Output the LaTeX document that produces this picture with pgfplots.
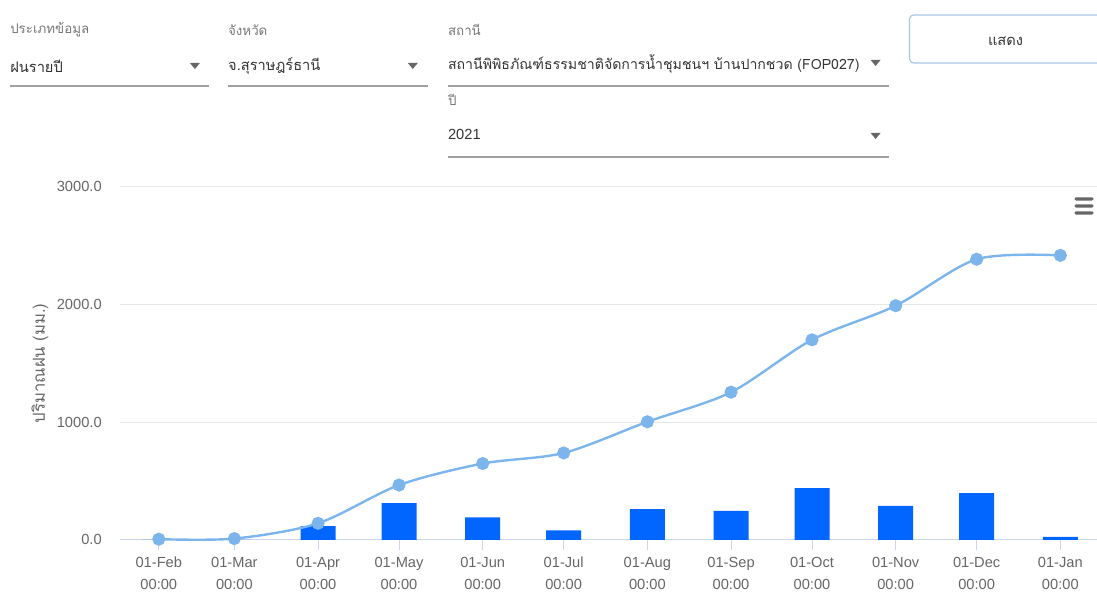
\documentclass[border=0pt]{standalone}
\usepackage{pgfplots}
\pgfplotsset{compat=1.18}
\usepackage{fontspec}
\setmainfont{Liberation Sans}
\newfontfamily\thaifont[Script=Thai]{Loma}
\definecolor{linecol}{HTML}{7CB5EC}
\definecolor{barcol}{HTML}{0066FF}
\definecolor{axcol}{HTML}{CCD6EB}
\definecolor{gridcol}{HTML}{E6E6E6}
\definecolor{labcol}{HTML}{666666}
\definecolor{formlab}{HTML}{777777}
\definecolor{formval}{HTML}{333333}
\definecolor{uline}{HTML}{A0A0A0}
\definecolor{btnborder}{HTML}{A9C6E4}
\begin{document}
\begin{tikzpicture}
\begin{scope}[x=0.75pt,y=-0.75pt]
\path[use as bounding box] (0,0) rectangle (1097,592);
% form labels
\node[anchor=west,inner sep=0pt,text=formlab,font=\thaifont\fontsize{10}{12}\selectfont] at (10,30) {ประเภทข้อมูล};
\node[anchor=west,inner sep=0pt,text=formlab,font=\thaifont\fontsize{10}{12}\selectfont] at (228,30) {จังหวัด};
\node[anchor=west,inner sep=0pt,text=formlab,font=\thaifont\fontsize{10}{12}\selectfont] at (448,30) {สถานี};
\node[anchor=west,inner sep=0pt,text=formlab,font=\thaifont\fontsize{10}{12}\selectfont] at (448,100) {ปี};
% form values
\node[anchor=west,inner sep=0pt,text=formval,font=\thaifont\fontsize{11}{13}\selectfont] at (10,66) {ฝนรายปี};
\node[anchor=west,inner sep=0pt,text=formval,font=\thaifont\fontsize{11}{13}\selectfont] at (228,66) {จ.สุราษฎร์ธานี};
\node[anchor=west,inner sep=0pt,text=formval,font=\thaifont\fontsize{10.6}{13}\selectfont] at (448,64) {สถานีพิพิธภัณฑ์ธรรมชาติจัดการน้ำชุมชนฯ บ้านปากชวด (FOP027)};
\node[anchor=west,inner sep=0pt,text=formval,font=\fontsize{11}{13}\selectfont] at (448,135) {2021};
% underlines
\draw[uline,line width=1pt] (10,86) -- (209,86);
\draw[uline,line width=1pt] (228,86) -- (428,86);
\draw[uline,line width=1pt] (448,86) -- (889,86);
\draw[uline,line width=1pt] (448,157) -- (889,157);
% dropdown triangles
\foreach \tx/\ty in {195/66, 413/66, 876/63, 876/136}{
  \fill[labcol] (\tx-5,\ty-3) -- (\tx+5,\ty-3) -- (\tx,\ty+3) -- cycle;
}
% button
\draw[btnborder,line width=0.9pt,rounded corners=3pt] (910,15) rectangle (1104,63);
\node[text=formval,font=\thaifont\fontsize{11}{13}\selectfont] at (1006,41) {แสดง};
% menu icon
\foreach \my in {199,206,213}{
  \fill[labcol,rounded corners=1pt] (1075,\my-1.6) rectangle (1094,\my+1.6);
}
\end{scope}
\begin{axis}[
  at={(90pt,-405pt)}, anchor=south west,
  scale only axis, width=732.75pt, height=264.75pt,
  xmin=-14.4, xmax=347.4, ymin=0, ymax=3000,
  axis x line=bottom, axis y line=left,
  x axis line style={draw=axcol,line width=0.75pt,-},
  y axis line style={draw=none},
  xtick={0,28,59,89,120,150,181,212,242,273,303,334},
  xticklabels={01-Feb\\00:00,01-Mar\\00:00,01-Apr\\00:00,01-May\\00:00,01-Jun\\00:00,01-Jul\\00:00,01-Aug\\00:00,01-Sep\\00:00,01-Oct\\00:00,01-Nov\\00:00,01-Dec\\00:00,01-Jan\\00:00},
  xticklabel style={align=center,font=\fontsize{11}{16.5}\selectfont,text=labcol,inner sep=0pt,yshift=-5.5pt},
  tick align=outside,
  major tick length=7.5pt,
  xtick style={draw=axcol,line width=0.75pt},
  ytick={0,1000,2000,3000},
  ytick style={draw=none},
  yticklabel style={font=\fontsize{11}{13}\selectfont,text=labcol,inner sep=0pt,xshift=-6pt},
  /pgf/number format/.cd, fixed, fixed zerofill, precision=1, 1000 sep={}, assume math mode=true,
  /pgfplots/.cd,
  ymajorgrids,
  grid style={draw=gridcol,line width=0.75pt},
  ylabel={ปริมาณฝน (มม.)},
  every axis y label/.style={at={(axis description cs:-0.082,0.5)},rotate=90,anchor=center,font=\thaifont\fontsize{12.5}{14}\selectfont,text=labcol},
  clip=false,
]
\addplot[ybar, bar width=26.25pt, fill=barcol, draw=none] coordinates {
(0,0) (28,0) (59,115) (89,312) (120,190) (150,79) (181,261) (212,246) (242,439) (273,289) (303,397) (334,25)};
\addplot[smooth, color=linecol, line width=1.8pt, mark=*, mark size=4pt, mark options={fill=linecol,draw=none}] coordinates {
(0,5) (28,10) (59,140) (89,465) (120,648) (150,738) (181,1003) (212,1255) (242,1700) (273,1990) (303,2385) (334,2418)};
\end{axis}
\end{tikzpicture}
\end{document}
